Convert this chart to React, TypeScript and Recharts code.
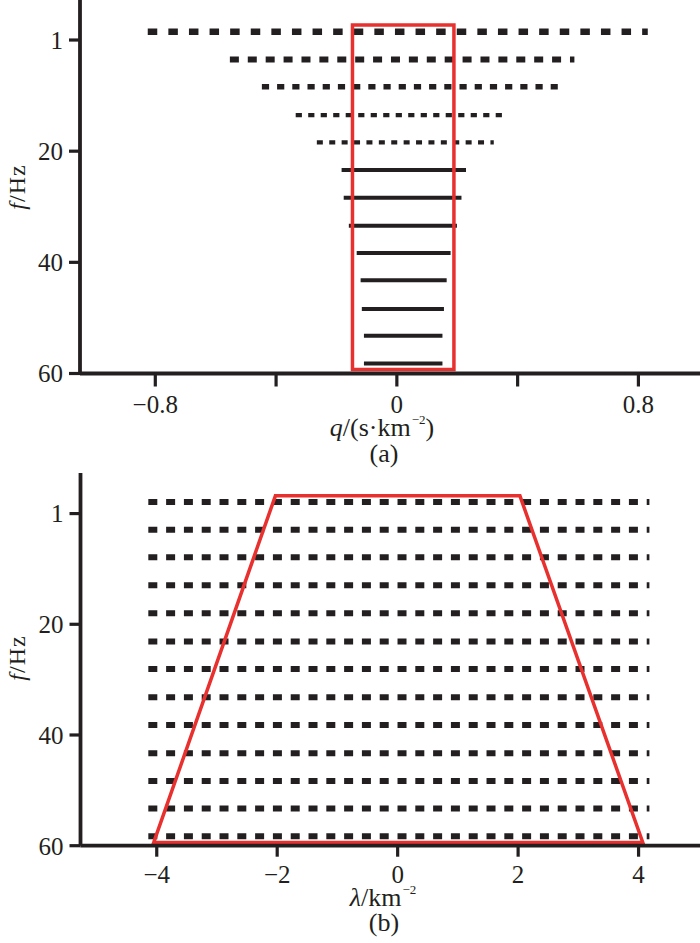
import React from 'react';
import { LineChart, Line, XAxis, YAxis } from 'recharts';

const INK = '#231f20';
const RED = '#e8312f';
const FONT = '"Liberation Serif", "Times New Roman", serif';

// ---------- Panel (a) data ----------
const aFreqTicks = [0, 20, 40, 60];
const aFreqTickLabels = ['1', '20', '40', '60'];
const aQTicks = [-0.8, -0.4, 0, 0.4, 0.8];
const aQTickLabels = ['\u22120.8', '', '0', '', '0.8'];
const aRowFreq = [-1.5, 3.5, 8.4, 13.5, 18.4, 23.4, 28.4, 33.4, 38.3, 43.2, 48.4, 53.2, 58.2];
const aRowStart = [-0.825, -0.553, -0.447, -0.335, -0.265, -0.183, -0.176, -0.159, -0.133, -0.12, -0.116, -0.109, -0.109];
const aRowEnd = [0.831, 0.588, 0.533, 0.368, 0.321, 0.229, 0.214, 0.199, 0.178, 0.165, 0.156, 0.151, 0.151];
const aBoxQ = [-0.147, -0.147, 0.189, 0.189, -0.147, -0.147];
const aBoxF = [59.3, -2.7, -2.7, 59.3, 59.3, -2.7];

// ---------- Panel (b) data ----------
const bFreqTicks = [0, 20, 40, 60];
const bFreqTickLabels = ['1', '20', '40', '60'];
const bLambdaTicks = [-4, -2, 0, 2, 4];
const bLambdaTickLabels = ['\u22124', '\u22122', '0', '2', '4'];
const bRowFreq = [-2.1, 2.9, 7.9, 12.95, 18.0, 23.1, 28.1, 33.2, 38.2, 43.3, 48.3, 53.3, 58.3];
const bRowStart = [-4.14, -4.14, -4.14, -4.14, -4.14, -4.14, -4.14, -4.14, -4.14, -4.14, -4.14, -4.14, -4.14];
const bRowEnd = [4.18, 4.18, 4.18, 4.18, 4.18, 4.18, 4.18, 4.18, 4.18, 4.18, 4.18, 4.18, 4.18];
const bTrapLambda = [-4.05, -2.03, 2.03, 4.07, -4.05, -2.03];
const bTrapFreq = [59.4, -3.2, -3.2, 59.4, 59.4, -3.2];

// ---------- styles ----------
const aRowStyle = [
  { w: 6.5, dash: '9.5 11.1' },
  { w: 6, dash: '9 8.9' },
  { w: 5.5, dash: '7.2 8' },
  { w: 4.3, dash: '6.2 6.3' },
  { w: 4.3, dash: '6 6.4' },
  { w: 4, dash: undefined },
  { w: 4, dash: undefined },
  { w: 4, dash: undefined },
  { w: 4, dash: undefined },
  { w: 4, dash: undefined },
  { w: 4, dash: undefined },
  { w: 4, dash: undefined },
  { w: 4, dash: undefined },
];
const bRowStyle = { w: 6, dash: '9 8.8' };

const tickStyle = { fill: INK, fontSize: 25, fontFamily: FONT };

function PanelA() {
  const box = aBoxQ.map((x, i) => ({ x, f: aBoxF[i] }));
  return (
    <LineChart width={700} height={470} margin={{ top: 0, right: 0, bottom: 0, left: 0 }}>
      <XAxis
        type="number"
        dataKey="x"
        domain={[-1.0494, 1.004]}
        allowDataOverflow
        ticks={aQTicks}
        interval={0}
        tickFormatter={(v: number) => aQTickLabels[aQTicks.indexOf(v)] ?? ''}
        height={96.5}
        tickSize={13}
        tickMargin={8.5}
        axisLine={{ stroke: INK, strokeWidth: 3.8 }}
        tickLine={{ stroke: INK, strokeWidth: 3.2 }}
        tick={tickStyle}
      />
      <YAxis
        type="number"
        domain={[-7.2, 60]}
        reversed
        allowDataOverflow
        ticks={aFreqTicks}
        interval={0}
        tickFormatter={(v: number) => aFreqTickLabels[aFreqTicks.indexOf(v)] ?? ''}
        width={80}
        tickSize={11}
        tickMargin={6}
        axisLine={{ stroke: INK, strokeWidth: 3.8 }}
        tickLine={{ stroke: INK, strokeWidth: 3.2 }}
        tick={tickStyle}
      />
      {aRowFreq.map((f, i) => (
        <Line
          key={'a' + i}
          data={[{ x: aRowStart[i], f }, { x: aRowEnd[i], f }]}
          dataKey="f"
          type="linear"
          stroke={INK}
          strokeWidth={aRowStyle[i].w}
          strokeDasharray={aRowStyle[i].dash}
          dot={false}
          activeDot={false}
          isAnimationActive={false}
        />
      ))}
      <Line
        data={box}
        dataKey="f"
        type="linear"
        stroke={RED}
        strokeWidth={3.5}
        dot={false}
        activeDot={false}
        isAnimationActive={false}
      />
    </LineChart>
  );
}

function PanelB() {
  const trap = bTrapLambda.map((x, i) => ({ x, f: bTrapFreq[i] }));
  return (
    <LineChart width={700} height={473} margin={{ top: 3, right: 0, bottom: 0, left: 0 }}>
      <XAxis
        type="number"
        dataKey="x"
        domain={[-5.266, 5.02]}
        allowDataOverflow
        ticks={bLambdaTicks}
        interval={0}
        tickFormatter={(v: number) => bLambdaTickLabels[bLambdaTicks.indexOf(v)] ?? ''}
        height={97.3}
        tickSize={11}
        tickMargin={8.5}
        axisLine={{ stroke: INK, strokeWidth: 3.8 }}
        tickLine={{ stroke: INK, strokeWidth: 3.2 }}
        tick={tickStyle}
      />
      <YAxis
        type="number"
        domain={[-7.33, 60]}
        reversed
        allowDataOverflow
        ticks={bFreqTicks}
        interval={0}
        tickFormatter={(v: number) => bFreqTickLabels[bFreqTicks.indexOf(v)] ?? ''}
        width={80.5}
        tickSize={11}
        tickMargin={6}
        axisLine={{ stroke: INK, strokeWidth: 3.8 }}
        tickLine={{ stroke: INK, strokeWidth: 3.2 }}
        tick={tickStyle}
      />
      {bRowFreq.map((f, i) => (
        <Line
          key={'b' + i}
          data={[{ x: bRowStart[i], f }, { x: bRowEnd[i], f }]}
          dataKey="f"
          type="linear"
          stroke={INK}
          strokeWidth={bRowStyle.w}
          strokeDasharray={bRowStyle.dash}
          dot={false}
          activeDot={false}
          isAnimationActive={false}
        />
      ))}
      <Line
        data={trap}
        dataKey="f"
        type="linear"
        stroke={RED}
        strokeWidth={3.5}
        dot={false}
        activeDot={false}
        isAnimationActive={false}
      />
    </LineChart>
  );
}

const textBase: React.CSSProperties = {
  position: 'absolute',
  fontFamily: FONT,
  color: INK,
  lineHeight: '20px',
  whiteSpace: 'nowrap',
};

function YTitle({ cx, cy }: { cx: number; cy: number }) {
  return (
    <div
      style={{
        ...textBase,
        fontSize: 24,
        lineHeight: 1,
        left: cx,
        top: cy,
        letterSpacing: 1,
        transform: 'translate(-50%, -50%) rotate(-90deg)',
      }}
    >
      <i>f</i>/Hz
    </div>
  );
}

function Sup({ children }: { children: React.ReactNode }) {
  return (
    <span style={{ fontSize: 13, position: 'relative', top: -12, marginLeft: 1 }}>{children}</span>
  );
}

// baseline offset for a 26px line in a 20px line box
const BASE = 18.8;

export default function App() {
  return (
    <div style={{ position: 'absolute', left: 0, top: 0, width: 700, height: 943, background: '#fff', overflow: 'hidden' }}>
      <div style={{ position: 'absolute', left: 0, top: 0 }}>
        <PanelA />
      </div>
      <div style={{ position: 'absolute', left: 0, top: 470 }}>
        <PanelB />
      </div>
      <YTitle cx={17} cy={187} />
      <YTitle cx={17} cy={658} />
      <div style={{ ...textBase, fontSize: 26, left: 382, top: 437 - BASE, transform: 'translateX(-50%)' }}>
        <i>q</i>/(s·km<Sup>{'\u22122'}</Sup>)
      </div>
      <div style={{ ...textBase, fontSize: 26, left: 384, top: 463 - BASE, transform: 'translateX(-50%)' }}>(a)</div>
      <div style={{ ...textBase, fontSize: 26, left: 383, top: 907 - BASE, transform: 'translateX(-50%)' }}>
        <i>λ</i>/km<Sup>{'\u22122'}</Sup>
      </div>
      <div style={{ ...textBase, fontSize: 26, left: 384, top: 932 - BASE, transform: 'translateX(-50%)' }}>(b)</div>
    </div>
  );
}
